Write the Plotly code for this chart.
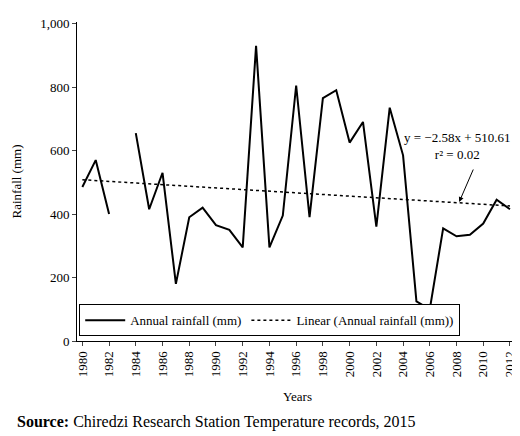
import plotly.graph_objects as go

years = list(range(1980, 2013))
rainfall = [485, 570, 400, None, 655, 415, 530, 180, 390, 420, 365, 350, 295, 930, 295, 395,
            805, 390, 765, 790, 625, 690, 360, 735, 585, 125, 100, 355, 330, 335, 370, 445, 415]
slope, intercept = -2.58, 510.61
trend = [slope * (i + 1) + intercept for i in range(len(years))]

font = dict(family="Liberation Serif", size=13, color="black")

fig = go.Figure()
fig.add_trace(go.Scatter(x=years, y=rainfall, mode="lines", name="Annual rainfall (mm)",
                         line=dict(color="black", width=2), connectgaps=False))
fig.add_trace(go.Scatter(x=years, y=trend, mode="lines", name="Linear (Annual rainfall (mm))",
                         line=dict(color="black", width=1.5, dash="dot")))

fig.add_annotation(x=2012.2, y=615, xref="x", yref="y", text="y = \u22122.58x + 510.61<br>r\u00b2 = 0.02",
                   showarrow=False, xanchor="right", align="center", font=font)
fig.add_annotation(x=2008.2, y=438, ax=2009.3, ay=545, xref="x", yref="y", axref="x", ayref="y",
                   showarrow=True, arrowhead=2, arrowsize=1, arrowwidth=1, arrowcolor="black", text="")
fig.add_annotation(x=0, y=0, xref="paper", yref="paper", xshift=-62, yshift=-92, xanchor="left",
                   yanchor="bottom", showarrow=False,
                   text="<b>Source:</b> Chiredzi Research Station Temperature records, 2015",
                   font=dict(family="Liberation Serif", size=16, color="black"))

fig.update_layout(
    width=520, height=436, plot_bgcolor="white", paper_bgcolor="white", font=font,
    margin=dict(l=60, r=10, t=8, b=103),
    showlegend=True,
    legend=dict(orientation="h", x=0.005, y=0.015, xanchor="left", yanchor="bottom",
                bordercolor="black", borderwidth=1, bgcolor="white", font=font,
                itemwidth=40, tracegroupgap=0),
)
fig.update_xaxes(range=[1979.6, 2012.6], tickmode="array", tickvals=list(range(1980, 2013, 2)),
                 tickangle=-90, showline=True, linecolor="black", ticks="outside", ticklen=4,
                 showgrid=False, zeroline=False, title=dict(text="Years", font=font))
fig.update_yaxes(range=[0, 1005], tickvals=[0, 200, 400, 600, 800, 1000],
                 ticktext=["0", "200", "400", "600", "800", "1,000"],
                 showline=True, linecolor="black", ticks="outside", ticklen=4, mirror=False,
                 showgrid=False, zeroline=False, title=dict(text="Rainfall (mm)", font=font))

fig.write_html("out.html")
